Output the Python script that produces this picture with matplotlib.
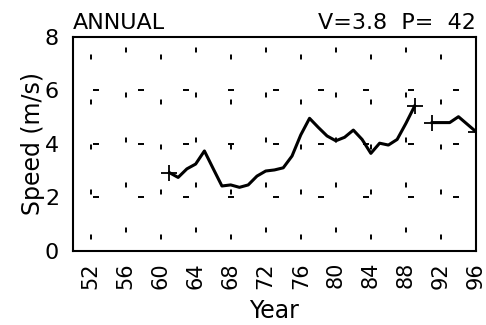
import matplotlib
matplotlib.use("Agg")
import matplotlib.pyplot as plt
import numpy as np

plt.rcParams["font.family"] = ["DejaVu Sans"]
plt.rcParams["lines.scale_dashes"] = False

# data (year 90 missing)
years = np.arange(61, 97)
speed = np.array([2.93, 2.75, 3.07, 3.25, 3.74, 3.08, 2.43, 2.47, 2.38, 2.47,
                  2.80, 2.99, 3.03, 3.11, 3.55, 4.34, 4.96, 4.62, 4.30, 4.12,
                  4.25, 4.52, 4.17, 3.65, 4.03, 3.96, 4.17, 4.77, 5.42, np.nan,
                  4.80, 4.80, 4.80, 5.02, 4.74, 4.46])

xticks = list(range(52, 97, 4))
xtick_labels = [str(t) for t in xticks]
yticks = [0, 2, 4, 6, 8]
ygrid = [2, 4, 6]

title_left = "ANNUAL"
title_right = "V=3.8  P=  42"

fig = plt.figure(figsize=(4.86, 3.25), dpi=100)
ax = fig.add_axes([0.1502, 0.2277, 0.8292, 0.6585])

# sparse dash "grid" like the original
px = 0.72
for i, t in enumerate(xticks):
    off = 33.5 if i % 2 == 0 else 26.5
    ax.axvline(t, color="black", lw=1.4, ls=(off * px, (5 * px, 40 * px)), zorder=1)
for y in ygrid:
    ax.axhline(y, color="black", lw=1.4, ls=(25 * px, (6 * px, 39 * px)), zorder=1)

ax.plot(years, speed, color="black", lw=2.2, zorder=3)

# + at both ends of every unbroken segment
ok = ~np.isnan(speed)
ends = ok & (~np.r_[False, ok[:-1]] | ~np.r_[ok[1:], False])
ax.plot(years[ends], speed[ends], ls="none", marker="+", ms=12, mew=1.3,
        color="black", zorder=4)

ax.set_xlim(50, 96)
ax.set_ylim(0, 8)
ax.set_xticks(xticks)
ax.set_xticklabels(xtick_labels, rotation=90)
ax.set_yticks(yticks)
ax.tick_params(length=0)
ax.tick_params(axis="y", pad=10, labelsize=16)
ax.tick_params(axis="x", pad=8, labelsize=15)
for s in ax.spines.values():
    s.set_linewidth(1.5)

ax.set_xlabel("Year", fontsize=17, labelpad=7)
ax.set_ylabel("Speed (m/s)", fontsize=17, labelpad=0)
ax.set_title(title_left, loc="left", fontsize=16, pad=6)
ax.set_title(title_right, loc="right", fontsize=16, pad=6)

fig.savefig("out.png", dpi=100)
